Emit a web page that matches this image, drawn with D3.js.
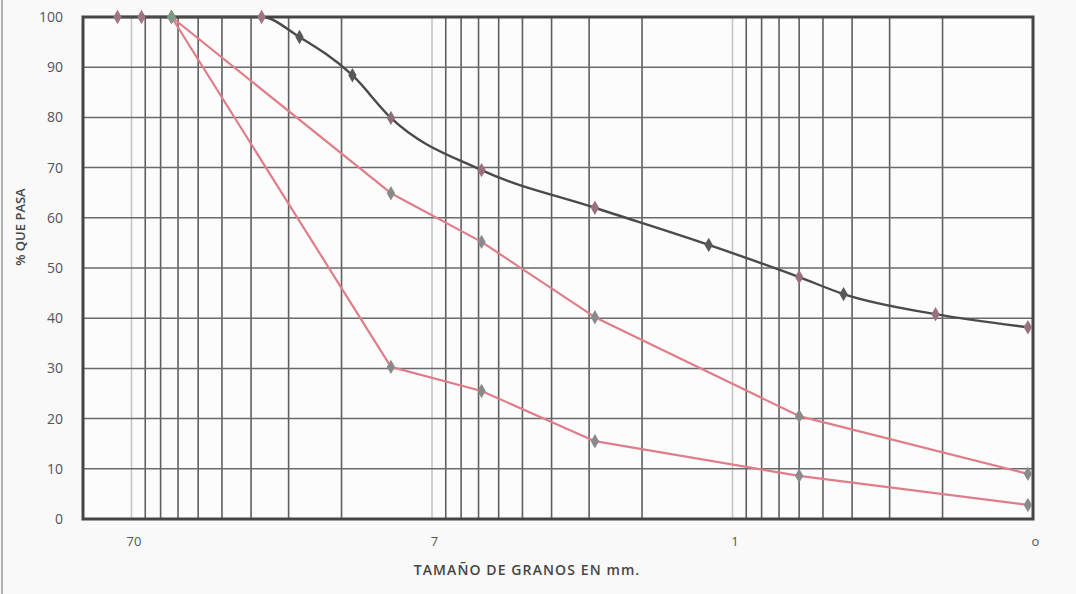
<!DOCTYPE html>
<html>
<head>
<meta charset="utf-8">
<script src="https://cdn.jsdelivr.net/npm/d3@7"></script>
<style>
  html, body { margin: 0; padding: 0; background: #f9f9f9; }
  svg { display: block; }
  text { font-family: "Open Sans", "Liberation Sans", sans-serif; }
</style>
</head>
<body>
<svg id="chart" width="1076" height="594"></svg>
<script>
// ---- data (grain size in mm, % passing) ----
const gradSizes = [111.3, 92.6, 73.6, 36.9, 27.6, 18.4, 13.7, 6.84, 2.87, 1.20, 0.60, 0.427, 0.211, 0.104];
const gradPassing = [100, 100, 100, 100, 96, 88.4, 79.9, 69.5, 62, 54.6, 48.2, 44.8, 40.8, 38.2];

const limitSizes = [73.6, 13.7, 6.84, 2.87, 0.60, 0.104];
const upperLimit = [100, 64.9, 55.2, 40.2, 20.5, 9.0];
const lowerLimit = [100, 30.3, 25.5, 15.5, 8.6, 2.8];

const yTicks = [0, 10, 20, 30, 40, 50, 60, 70, 80, 90, 100];
const xTickValues = [100, 10, 1, 0.1];
const xTickLabels = ["70", "7", "1", "o"];

const xTitle = "TAMAÑO DE GRANOS EN mm.";
const yTitle = "% QUE PASA";

// ---- styles ----
const gradMarkerColors = ["#a07482", "#a07482", "#a07482", "#a07482", "#585858", "#585858", "#8a6f78",
                          "#9a7080", "#9a7080", "#585858", "#9a7080", "#585858", "#9a7080", "#9a7080"];
const limitMarkerColors = ["#7f9a82", "#8a8a8a", "#8a8a8a", "#8a8a8a", "#8a8a8a", "#8a8a8a"];

const svg = d3.select("#chart");
const W = 1076, H = 594;
const m = { left: 83, right: 1033, top: 17, bottom: 519 };

// scan edge line
svg.append("line").attr("x1", 2).attr("x2", 2).attr("y1", 0).attr("y2", H)
  .attr("stroke", "#9a9a9a").attr("stroke-width", 1.5);

const x = d3.scaleLog().domain([145, 0.1]).range([m.left, m.right]);
const y = d3.scaleLinear().domain([0, 100]).range([m.bottom, m.top]);

// plot background
svg.append("rect").attr("x", m.left).attr("y", m.top)
  .attr("width", m.right - m.left).attr("height", m.bottom - m.top)
  .attr("fill", "#fcfcfc");

// vertical grid (log)
const vTicks = x.ticks().filter(v => v < 145 && v > 0.1);
svg.append("g").selectAll("line").data(vTicks).join("line")
  .attr("x1", d => x(d)).attr("x2", d => x(d))
  .attr("y1", m.top).attr("y2", m.bottom)
  .attr("stroke", d => {
    const l = Math.log10(d);
    return Math.abs(l - Math.round(l)) < 1e-9 ? "#c4c4c4" : "#5f5f5f";
  })
  .attr("stroke-width", 1.6);

// horizontal grid
svg.append("g").selectAll("line").data(yTicks.filter(v => v > 0 && v < 100)).join("line")
  .attr("x1", m.left).attr("x2", m.right)
  .attr("y1", d => y(d)).attr("y2", d => y(d))
  .attr("stroke", "#6a6a6a").attr("stroke-width", 1.5);

// border
svg.append("rect").attr("x", m.left).attr("y", m.top)
  .attr("width", m.right - m.left).attr("height", m.bottom - m.top)
  .attr("fill", "none").attr("stroke", "#454545").attr("stroke-width", 3);

// y axis labels
const yAxis = d3.axisLeft(y).tickValues(yTicks).tickSize(0).tickPadding(20);
const gy = svg.append("g").attr("transform", `translate(${m.left},0)`).call(yAxis);
gy.select(".domain").remove();
gy.selectAll("text").attr("fill", "#555").style("font-size", "14px")
  .style("font-family", '"Open Sans", sans-serif');

// x axis labels
const xAxis = d3.axisBottom(x).tickValues(xTickValues)
  .tickFormat((d, i) => xTickLabels[i]).tickSize(0).tickPadding(18);
const gx = svg.append("g").attr("transform", `translate(2,${m.bottom})`).call(xAxis);
gx.select(".domain").remove();
gx.selectAll("text").attr("fill", "#555").style("font-size", "13px")
  .style("font-family", '"Open Sans", sans-serif');

// titles
svg.append("text").attr("x", 527).attr("y", 575).attr("text-anchor", "middle")
  .attr("fill", "#454545").style("font-size", "14px").style("font-weight", 600)
  .style("letter-spacing", "1.1px")
  .text(xTitle);
svg.append("text").attr("transform", "translate(25,227) rotate(-90)")
  .attr("text-anchor", "middle").attr("fill", "#454545")
  .style("font-size", "13px").style("font-weight", 600).text(yTitle);

// curves
const smooth = d3.line().curve(d3.curveMonotoneX)
  .x(d => x(d[0])).y(d => y(d[1]));
const straight = d3.line().curve(d3.curveLinear)
  .x(d => x(d[0])).y(d => y(d[1]));

const gradPts = gradSizes.map((s, i) => [s, gradPassing[i]]);
const upPts = limitSizes.map((s, i) => [s, upperLimit[i]]);
const loPts = limitSizes.map((s, i) => [s, lowerLimit[i]]);

svg.append("path").attr("d", straight(upPts)).attr("fill", "none")
  .attr("stroke", "#df7d88").attr("stroke-width", 2.2).attr("stroke-linejoin", "round");
svg.append("path").attr("d", straight(loPts)).attr("fill", "none")
  .attr("stroke", "#df7d88").attr("stroke-width", 2.2).attr("stroke-linejoin", "round");
svg.append("path").attr("d", smooth(gradPts)).attr("fill", "none")
  .attr("stroke", "#4a4a4a").attr("stroke-width", 2.4);

const diamond = d3.symbol().type(d3.symbolDiamond).size(60);

svg.append("g").selectAll("path").data(gradPts).join("path")
  .attr("d", diamond).attr("transform", d => `translate(${x(d[0])},${y(d[1])})`)
  .attr("fill", (d, i) => gradMarkerColors[i]);
svg.append("g").selectAll("path").data(upPts.concat(loPts)).join("path")
  .attr("d", diamond).attr("transform", d => `translate(${x(d[0])},${y(d[1])})`)
  .attr("fill", (d, i) => limitMarkerColors[i % limitSizes.length]);
</script>
</body>
</html>
